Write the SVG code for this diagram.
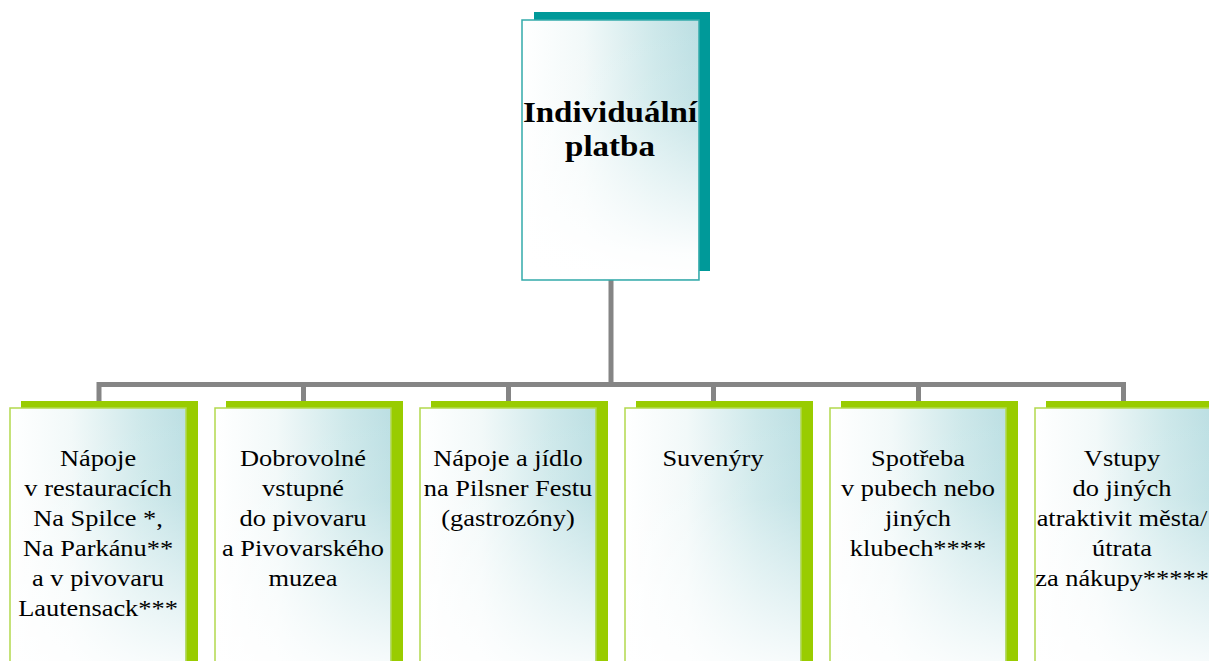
<svg xmlns="http://www.w3.org/2000/svg" width="1209" height="661" viewBox="0 0 1209 661">
<style>
.shT{fill:#009999}
.shG{fill:#99cc00}
.frT{fill:url(#gH);stroke:#33aaaa;stroke-width:1.5}
.frG{fill:url(#gH);stroke:#b3d94d;stroke-width:1.5}
.fade{fill:url(#gV);stroke:none}
.conn{stroke:#858585;stroke-width:5;fill:none;stroke-linecap:butt}
.t{font-family:"Liberation Serif","Times New Roman",serif;font-size:24px;fill:#000;text-anchor:middle}
.tb{font-family:"Liberation Serif","Times New Roman",serif;font-size:30px;font-weight:bold;fill:#000;text-anchor:middle}
</style>
<defs>
<linearGradient id="gH" x1="0" y1="0" x2="1" y2="0">
<stop offset="0" stop-color="#ffffff"/>
<stop offset="0.35" stop-color="#f2f9f9"/>
<stop offset="0.75" stop-color="#cde8ea"/>
<stop offset="1" stop-color="#bcdfe3"/>
</linearGradient>
<linearGradient id="gV" x1="0" y1="0" x2="0" y2="1">
<stop offset="0" stop-color="#ffffff" stop-opacity="0"/>
<stop offset="0.3" stop-color="#ffffff" stop-opacity="0.1"/>
<stop offset="0.9" stop-color="#ffffff" stop-opacity="0.95"/>
<stop offset="1" stop-color="#ffffff" stop-opacity="1"/>
</linearGradient>
</defs>
<rect width="1209" height="661" fill="#ffffff"/>
<g id="connectors">
<path class="conn" d="M611,280 V384.5"/>
<path class="conn" d="M99,401 V384.5 H1123.5 V401"/>
<path class="conn" d="M303.5,384.5 V401"/>
<path class="conn" d="M508.5,384.5 V401"/>
<path class="conn" d="M713.5,384.5 V401"/>
<path class="conn" d="M918.5,384.5 V401"/>
</g>
<g id="node-top">
<rect class="shT" x="534" y="12" width="176" height="259"/>
<rect class="frT" x="522" y="20" width="177" height="260"/>
<rect class="fade" x="523" y="21" width="175" height="258"/>
<g transform="translate(610 0) scale(1.1 1)">
<text class="tb" x="0" y="122">Individuální</text>
<text class="tb" x="0" y="156.5">platba</text>
</g>
</g>
<g id="node-1">
<rect class="shG" x="21" y="401" width="177" height="270"/>
<rect class="frG" x="10" y="408" width="176" height="270"/>
<rect class="fade" x="11" y="409" width="174" height="300"/>
<g transform="translate(98 0) scale(1.1 1)">
<text class="t" x="0" y="466"><tspan x="0">Nápoje</tspan><tspan x="0" dy="30">v restauracích</tspan><tspan x="0" dy="30">Na Spilce *,</tspan><tspan x="0" dy="30">Na Parkánu**</tspan><tspan x="0" dy="30">a v pivovaru</tspan><tspan x="0" dy="30">Lautensack***</tspan></text>
</g>
</g>
<g id="node-2">
<rect class="shG" x="226" y="401" width="177" height="270"/>
<rect class="frG" x="215" y="408" width="176" height="270"/>
<rect class="fade" x="216" y="409" width="174" height="300"/>
<g transform="translate(303 0) scale(1.1 1)">
<text class="t" x="0" y="466"><tspan x="0">Dobrovolné</tspan><tspan x="0" dy="30">vstupné</tspan><tspan x="0" dy="30">do pivovaru</tspan><tspan x="0" dy="30">a Pivovarského</tspan><tspan x="0" dy="30">muzea</tspan></text>
</g>
</g>
<g id="node-3">
<rect class="shG" x="431" y="401" width="177" height="270"/>
<rect class="frG" x="420" y="408" width="176" height="270"/>
<rect class="fade" x="421" y="409" width="174" height="300"/>
<g transform="translate(508 0) scale(1.1 1)">
<text class="t" x="0" y="466"><tspan x="0">Nápoje a jídlo</tspan><tspan x="0" dy="30">na Pilsner Festu</tspan><tspan x="0" dy="30">(gastrozóny)</tspan></text>
</g>
</g>
<g id="node-4">
<rect class="shG" x="636" y="401" width="177" height="270"/>
<rect class="frG" x="625" y="408" width="176" height="270"/>
<rect class="fade" x="626" y="409" width="174" height="300"/>
<g transform="translate(713 0) scale(1.1 1)">
<text class="t" x="0" y="466">Suvenýry</text>
</g>
</g>
<g id="node-5">
<rect class="shG" x="841" y="401" width="177" height="270"/>
<rect class="frG" x="830" y="408" width="176" height="270"/>
<rect class="fade" x="831" y="409" width="174" height="300"/>
<g transform="translate(918 0) scale(1.1 1)">
<text class="t" x="0" y="466"><tspan x="0">Spotřeba</tspan><tspan x="0" dy="30">v pubech nebo</tspan><tspan x="0" dy="30">jiných</tspan><tspan x="0" dy="30">klubech****</tspan></text>
</g>
</g>
<g id="node-6">
<rect class="shG" x="1046" y="401" width="177" height="270"/>
<rect class="frG" x="1035" y="408" width="176" height="270"/>
<rect class="fade" x="1036" y="409" width="174" height="300"/>
<g transform="translate(1122 0) scale(1.1 1)">
<text class="t" x="0" y="466"><tspan x="0">Vstupy</tspan><tspan x="0" dy="30">do jiných</tspan><tspan x="0" dy="30">atraktivit města/</tspan><tspan x="0" dy="30">útrata</tspan><tspan x="0" dy="30">za nákupy*****</tspan></text>
</g>
</g>
</svg>
